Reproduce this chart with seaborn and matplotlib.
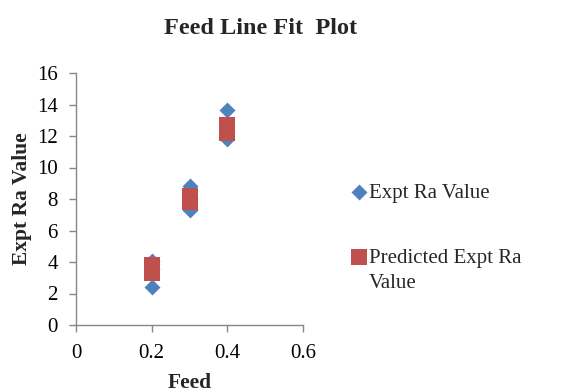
import matplotlib
matplotlib.use("Agg")
import matplotlib.pyplot as plt
from matplotlib.lines import Line2D
import seaborn as sns
import pandas as pd

# Data
feed = [0.2, 0.2, 0.2, 0.3, 0.3, 0.3, 0.4, 0.4, 0.4]
expt_ra = [4.06, 3.55, 2.44, 8.80, 8.00, 7.27, 13.62, 12.30, 11.80]
predicted_ra = [3.81, 3.55, 3.33, 8.22, 8.00, 7.78, 12.67, 12.45, 12.22]
series_names = ["Expt Ra Value", "Predicted Expt Ra Value"]
x_ticks = [0, 0.2, 0.4, 0.6]
y_ticks = [0, 2, 4, 6, 8, 10, 12, 14, 16]

df = pd.DataFrame({
    "Feed": feed + feed,
    "Value": expt_ra + predicted_ra,
    "Series": [series_names[0]] * len(feed) + [series_names[1]] * len(feed),
})

sns.set_theme(style="white")
plt.rcParams["font.family"] = ["Liberation Serif", "DejaVu Serif"]

fig = plt.figure(figsize=(5.62, 3.92), dpi=100)
ax = fig.add_axes([76 / 562, 1 - 325 / 392, (303 - 76) / 562, (325 - 73) / 392])

colors = {series_names[0]: "#4F81BD", series_names[1]: "#C0504D"}
sizes = {series_names[0]: 66, series_names[1]: 120}
markers = {series_names[0]: "D", series_names[1]: "s"}
for name in series_names:
    sub = df[df["Series"] == name]
    sns.scatterplot(data=sub, x="Feed", y="Value", ax=ax, color=colors[name],
                    marker=markers[name], s=sizes[name], linewidth=0,
                    label=name, zorder=3 if name == series_names[1] else 2)

ax.set_xlim(0, 0.6)
ax.set_ylim(0, 16)
ax.set_xticks(x_ticks)
ax.set_xticklabels([f"{t:g}" for t in x_ticks])
ax.set_yticks(y_ticks)
ax.set_yticklabels([str(t) for t in y_ticks])
for s in ["top", "right"]:
    ax.spines[s].set_visible(False)
for s in ["left", "bottom"]:
    ax.spines[s].set_color("#868686")
    ax.spines[s].set_linewidth(1.0)
ax.tick_params(axis="both", which="major", direction="out", length=5, width=1,
               color="#868686", labelsize=15, labelcolor="black",
               left=True, bottom=True)
ax.tick_params(axis="y", pad=8)
ax.tick_params(axis="x", pad=9)

ax.set_xlabel("Feed", fontsize=15.5, fontweight="bold", labelpad=7)
ax.set_ylabel("Expt Ra Value", fontsize=15.5, fontweight="bold", labelpad=4)
fig.suptitle("Feed Line Fit  Plot", fontsize=17.5, fontweight="bold", x=0.463, y=0.955)

handles, _ = ax.get_legend_handles_labels()
leg1 = ax.legend(handles[:1], ["Expt Ra Value"], loc="center left",
                 bbox_to_anchor=(351 / 562, 1 - 193 / 392), bbox_transform=fig.transFigure,
                 frameon=False, fontsize=15, handletextpad=0.05,
                 handlelength=0.8, borderaxespad=0, borderpad=0)
ax.add_artist(leg1)
blank = Line2D([], [], linestyle="none", marker=None)
leg2 = ax.legend([handles[1], blank], ["Predicted Expt Ra", "Value"], loc="upper left",
                 bbox_to_anchor=(351 / 562, 1 - 248 / 392), bbox_transform=fig.transFigure,
                 frameon=False, fontsize=15, labelspacing=0.3, handletextpad=0.05,
                 handlelength=0.8, borderaxespad=0, borderpad=0)

fig.savefig("out.png", dpi=100)
